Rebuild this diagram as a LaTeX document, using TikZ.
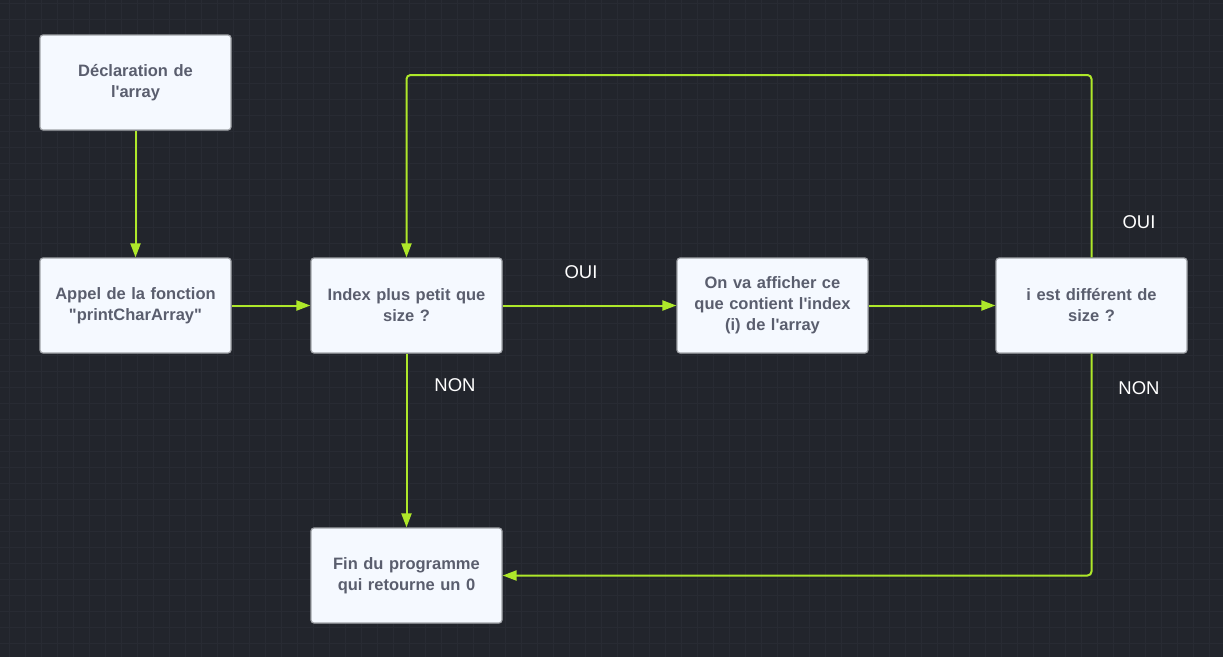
\documentclass[tikz,border=0pt]{standalone}
\usepackage{fontspec}
\setmainfont{Liberation Sans}[Ligatures=TeXOff]
\usetikzlibrary{arrows.meta}
\definecolor{bg}{HTML}{22252C}
\definecolor{gridc}{HTML}{282B33}
\definecolor{boxfill}{HTML}{F5F9FF}
\definecolor{boxdraw}{HTML}{A0A3A8}
\definecolor{boxtext}{HTML}{5A5E6E}
\definecolor{link}{HTML}{AEE82A}
\tikzset{
  stepbox/.style={draw=boxdraw, line width=1.2pt, fill=boxfill, rounded corners=3pt,
    minimum width=191pt, minimum height=95pt, text width=185pt, align=center,
    font=\bfseries\fontsize{16.5}{21}\selectfont, text=boxtext, inner sep=0pt},
  conn/.style={draw=link, line width=2pt, rounded corners=4pt,
    -{Triangle[width=10pt,length=14pt]}},
  lbl/.style={text=white, font=\fontsize{18.5}{22}\selectfont, inner sep=0pt}
}
\begin{document}
\begin{tikzpicture}[x=1pt,y=-1pt]
\fill[bg] (0,0) rectangle (1223,657);
\useasboundingbox (0,0) rectangle (1223,657);
\foreach \i in {0,...,76} {\draw[gridc, line width=0.8pt] (9+16*\i,0) -- (9+16*\i,657);}
\foreach \j in {0,...,41} {\draw[gridc, line width=0.8pt] (0,3+16*\j) -- (1223,3+16*\j);}

\node[stepbox] (decl) at (135.5,82.5) {Déclaration de\\ l'array};
\node[stepbox] (appel) at (135.5,305.5) {Appel de la fonction\\ "printCharArray"};
\node[stepbox] (index) at (406.5,305.5) {Index plus petit que\\ size ?};
\node[stepbox] (aff) at (772.5,305.5) {On va afficher ce\\ que contient l'index\\ (i) de l'array};
\node[stepbox] (diff) at (1091.5,305.5) {i est différent de\\ size ?};
\node[stepbox] (fin) at (406.5,575.5) {Fin du programme\\ qui retourne un 0};

\coordinate (tr) at (1091.5,75);
\coordinate (tl) at (406.5,75);
\coordinate (br) at (1091.5,575.5);

\draw[conn] (decl) -- (appel);
\draw[conn] (appel) -- (index);
\draw[conn] (index) -- (aff);
\draw[conn] (aff) -- (diff);
\draw[conn] (diff.north) -- (tr) -- (tl) -- (index.north);
\draw[conn] (index) -- (fin);
\draw[conn] (diff.south) -- (br) -- (fin.east);

\node[lbl] (l1) at (581,272) {OUI};
\node[lbl] (l2) at (1139,222) {OUI};
\node[lbl] (l3) at (455,385) {NON};
\node[lbl] (l4) at (1139,388) {NON};
\end{tikzpicture}
\end{document}
